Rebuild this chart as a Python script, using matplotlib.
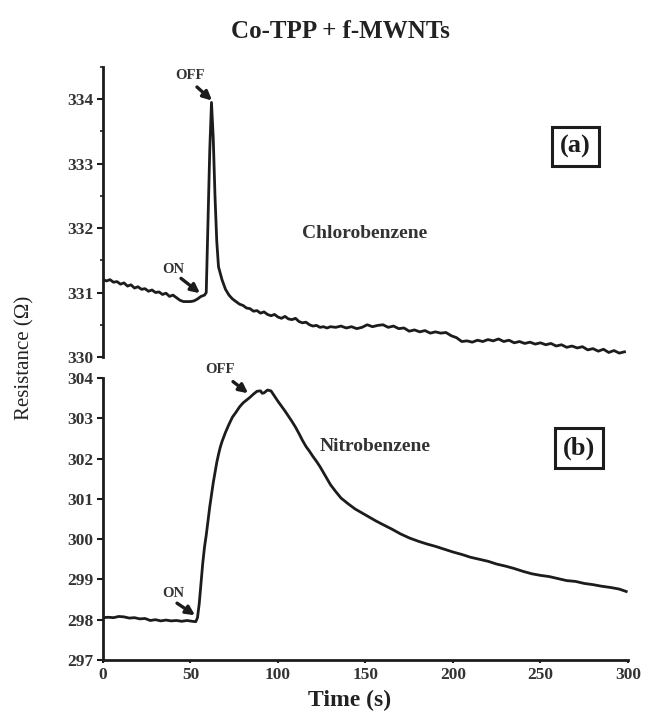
import numpy as np
import matplotlib.pyplot as plt
from matplotlib.ticker import MultipleLocator

plt.rcParams['font.family'] = ['Liberation Serif', 'DejaVu Serif']

# (a) Chlorobenzene
t_a = [0, 2, 4, 6, 8, 10, 12, 14, 16, 18, 20, 22, 24, 26, 28, 30, 32, 34, 36, 38,
       40, 42, 44, 46, 48, 50, 52, 54, 56, 58, 59, 60, 61, 62, 63, 64, 65, 66, 67, 68,
       70, 72, 74, 76, 78, 80, 82, 84, 86, 88, 90, 92, 94, 96, 98, 100, 102, 104, 106, 108,
       110, 112, 114, 116, 118, 120, 122, 124, 126, 128, 130, 133, 136, 139, 142, 145, 148, 151, 154, 157,
       160, 163, 166, 169, 172, 175, 178, 181, 184, 187, 190, 193, 196, 199, 202, 205, 208, 211, 214, 217,
       220, 223, 226, 229, 232, 235, 238, 241, 244, 247, 250, 253, 256, 259, 262, 265, 268, 271, 274, 277,
       280, 283, 286, 289, 292, 295, 298]
r_a = [331.20, 331.18, 331.20, 331.16, 331.17, 331.13, 331.15, 331.10, 331.12, 331.07,
       331.09, 331.05, 331.06, 331.02, 331.04, 331.00, 331.01, 330.97, 330.99, 330.94,
       330.96, 330.92, 330.88, 330.86, 330.86, 330.86, 330.87, 330.90, 330.94, 330.96,
       331.00, 332.10, 333.20, 333.95, 333.40, 332.50, 331.80, 331.40, 331.30, 331.20,
       331.05, 330.96, 330.90, 330.86, 330.82, 330.80, 330.76, 330.75, 330.71, 330.72,
       330.68, 330.70, 330.66, 330.64, 330.66, 330.62, 330.60, 330.63, 330.59, 330.58,
       330.60, 330.55, 330.53, 330.54, 330.50, 330.48, 330.49, 330.46, 330.47, 330.45,
       330.47, 330.46, 330.48, 330.45, 330.47, 330.44, 330.46, 330.50, 330.47, 330.49,
       330.50, 330.46, 330.48, 330.44, 330.45, 330.40, 330.42, 330.39, 330.41, 330.37,
       330.39, 330.37, 330.38, 330.33, 330.30, 330.24, 330.25, 330.23, 330.26, 330.24,
       330.27, 330.25, 330.28, 330.24, 330.26, 330.22, 330.24, 330.21, 330.23, 330.20,
       330.22, 330.19, 330.21, 330.17, 330.19, 330.15, 330.17, 330.14, 330.16, 330.11,
       330.13, 330.09, 330.12, 330.07, 330.10, 330.06, 330.08]

# (b) Nitrobenzene
t_b = [0, 3, 6, 9, 12, 15, 18, 21, 24, 27, 30, 33, 36, 39, 42, 45, 48, 51, 53, 54,
       55, 56, 57, 58, 59, 60, 61, 62, 63, 64, 65, 66, 67, 68, 70, 72, 74, 76, 78, 80,
       82, 84, 86, 88, 90, 91, 92, 94, 96, 98, 100, 102, 104, 106, 108, 110, 112, 114, 116, 118,
       120, 122, 124, 126, 128, 130, 133, 136, 140, 144, 148, 152, 156, 160, 165, 170, 175, 180, 185, 190,
       195, 200, 205, 210, 215, 220, 225, 230, 235, 240, 245, 250, 255, 260, 265, 270, 275, 280, 285, 290,
       295, 299]
r_b = [298.05, 298.06, 298.05, 298.08, 298.07, 298.04, 298.05, 298.02, 298.03, 297.98,
       298.00, 297.97, 297.99, 297.97, 297.98, 297.96, 297.98, 297.96, 297.95, 298.05,
       298.40, 298.90, 299.40, 299.80, 300.10, 300.45, 300.80, 301.10, 301.40, 301.65,
       301.90, 302.10, 302.28, 302.42, 302.65, 302.85, 303.03, 303.15, 303.28, 303.38,
       303.45, 303.52, 303.60, 303.67, 303.68, 303.62, 303.63, 303.70, 303.68, 303.55,
       303.42, 303.30, 303.18, 303.05, 302.92, 302.78, 302.62, 302.45, 302.30, 302.18,
       302.05, 301.93, 301.80, 301.65, 301.50, 301.35, 301.18, 301.02, 300.88, 300.75,
       300.65, 300.55, 300.45, 300.36, 300.25, 300.13, 300.03, 299.95, 299.88, 299.82,
       299.75, 299.68, 299.62, 299.55, 299.50, 299.45, 299.38, 299.33, 299.27, 299.20,
       299.14, 299.10, 299.07, 299.02, 298.97, 298.95, 298.90, 298.87, 298.83, 298.80,
       298.76, 298.70]

ink = '#1c1c1c'
grey = '#333333'
fig = plt.figure(figsize=(6.49, 7.19), dpi=100)
ax1 = fig.add_axes([0.1587, 0.5035, 0.8089, 0.4033])
ax2 = fig.add_axes([0.1587, 0.0821, 0.8089, 0.3922])

for ax in (ax1, ax2):
    ax.set_xlim(0, 300)
    for s in ('top', 'right'):
        ax.spines[s].set_visible(False)
    ax.spines['left'].set_linewidth(2)
    ax.spines['left'].set_color(ink)
    ax.tick_params(axis='y', direction='out', length=4, width=1.5, color=ink, labelsize=12.5, pad=3)

ax1.plot(t_a, r_a, color=ink, lw=2)
ax1.set_ylim(330, 334.5)
ax1.set_yticks([330, 331, 332, 333, 334])
ax1.yaxis.set_minor_locator(MultipleLocator(0.5))
ax1.tick_params(axis='y', which='minor', length=2.5, width=1.2, color=ink)
ax1.spines['bottom'].set_visible(False)
ax1.set_xticks([])
for lab in ax1.get_yticklabels():
    lab.set_fontweight('bold')
    lab.set_color(grey)

ax2.plot(t_b, r_b, color=ink, lw=2)
ax2.set_ylim(297, 304)
ax2.set_yticks(range(297, 305))
ax2.spines['bottom'].set_linewidth(2)
ax2.spines['bottom'].set_color(ink)
ax2.set_xticks(range(0, 301, 50))
ax2.tick_params(axis='x', direction='out', length=2, width=1.5, color=ink, labelsize=12.5, pad=3)
for lab in ax2.get_yticklabels() + ax2.get_xticklabels():
    lab.set_fontweight('bold')
    lab.set_color(grey)

arrow = dict(arrowstyle='-|>', color=ink, lw=2.4, mutation_scale=13, shrinkA=0, shrinkB=0)
small = dict(fontsize=10.5, fontweight='bold', color=grey, ha='center', va='center')
name = dict(fontsize=14, fontweight='bold', color=grey, ha='left', va='center')
box = dict(fontsize=19, fontweight='bold', color=ink, ha='center', va='center',
           bbox=dict(boxstyle='square,pad=0.3', fc='white', ec=ink, lw=2.2))

ax1.text(49.7, 334.37, 'OFF', clip_on=False, **small)
ax1.annotate('', xy=(62.3, 333.98), xytext=(53.7, 334.19), arrowprops=arrow)
ax1.text(40, 331.36, 'ON', **small)
ax1.annotate('', xy=(55.4, 330.99), xytext=(44.6, 331.22), arrowprops=arrow)
ax1.text(114, 331.92, 'Chlorobenzene', **name)
ax1.text(270, 333.26, '(a)', **box)

ax2.text(66.9, 304.21, 'OFF', clip_on=False, **small)
ax2.annotate('', xy=(82.9, 303.62), xytext=(74.3, 303.91), arrowprops=arrow)
ax2.text(40, 298.65, 'ON', **small)
ax2.annotate('', xy=(52.6, 298.11), xytext=(42.3, 298.41), arrowprops=arrow)
ax2.text(124, 302.31, 'Nitrobenzene', **name)
ax2.text(272, 302.26, '(b)', **box)

fig.text(340 / 649, 1 - 32 / 719, 'Co-TPP + f-MWNTs', fontsize=18, fontweight='bold',
         color='#222222', ha='center', va='center')
fig.text(25 / 649, 1 - 358 / 719, 'Resistance (\u03a9)', fontsize=15, rotation=90,
         color='#222222', ha='center', va='center')
fig.text(350 / 649, 1 - 700 / 719, 'Time (s)', fontsize=17, fontweight='bold',
         color='#222222', ha='center', va='center')

fig.savefig('out.png', dpi=100, facecolor='white')
